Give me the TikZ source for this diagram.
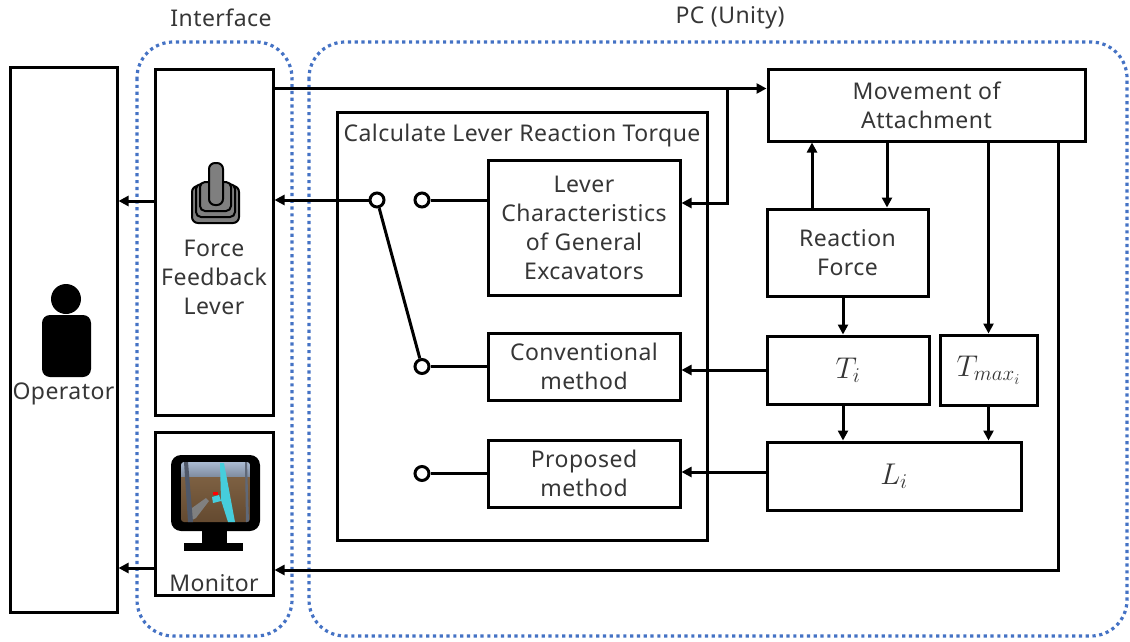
\RequirePackage{fix-cm}
\documentclass[tikz,border=0pt]{standalone}
\usepackage{fontspec}
\setmainfont[LetterSpace=2]{Noto Sans}
\usetikzlibrary{arrows.meta,calc}
\definecolor{txt}{HTML}{363636}
\definecolor{dotblue}{HTML}{4472C4}
\definecolor{leverfill}{HTML}{7F7F7F}
\definecolor{skytop}{RGB}{170,186,210}
\definecolor{skybot}{RGB}{120,132,150}
\definecolor{groundtop}{RGB}{125,96,66}
\definecolor{groundbot}{RGB}{100,74,48}
\definecolor{pillar}{RGB}{80,88,104}
\definecolor{pillarr}{RGB}{95,104,120}
\definecolor{armcyan}{RGB}{70,205,220}
\newcommand\lblfont{\fontsize{23}{29}\selectfont}
\newcommand\mathlbl{\fontsize{30}{32}\selectfont}
\begin{document}
\begin{tikzpicture}[x=1pt,y=-1pt,
  blk/.style={draw, line width=3pt, fill=white, inner sep=0pt, align=center, text=txt, font=\lblfont},
  lbl/.style={inner sep=0pt, align=center, text=txt, font=\lblfont},
  wire/.style={line width=3pt},
  arr/.style={line width=3pt, -{Triangle[length=10pt,width=10pt]}},
  contact/.style={circle, draw, line width=3pt, fill=white, minimum size=14pt, inner sep=0pt},
  group/.style={draw=dotblue, line width=3.2pt, dash pattern=on 3.2pt off 3.6pt, rounded corners=36pt},
  icon/.style={fill=leverfill, draw=black, line width=2pt}]
\useasboundingbox (0,0) rectangle (1130,642);

% dotted groups
\draw[group] (137,42) rectangle (292,636);
\draw[group] (309,42) rectangle (1127,636);
\node[lbl] (ifl) at (221,18) {Interface};
\node[lbl] (pcl) at (730,18) {PC (Unity)};

% blocks
\node[blk, minimum width=107pt, minimum height=544pt] (op) at (63.5,340) {};
\node[blk, minimum width=118pt, minimum height=345pt] (ffl) at (214,242.5) {};
\node[blk, minimum width=118pt, minimum height=163pt] (mon) at (214,513.5) {};
\node[blk, minimum width=370pt, minimum height=428pt] (calc) at (522,326) {};
\node[blk, minimum width=192pt, minimum height=135pt] (lev) at (584,227.5) {Lever\\Characteristics\\of General\\Excavators};
\node[blk, minimum width=192pt, minimum height=67pt] (conv) at (584,366.5) {Conventional\\method};
\node[blk, minimum width=192pt, minimum height=67pt] (prop) at (584,473.5) {Proposed\\method};
\node[blk, minimum width=317pt, minimum height=71pt] (mov) at (926.5,105.5) {Movement of\\Attachment};
\node[blk, minimum width=161pt, minimum height=87pt] (rf) at (847.5,252.5) {Reaction\\Force};
\node[blk, minimum width=162pt, minimum height=68pt, font=\mathlbl] (ti) at (848,370) {$T_i$};
\node[blk, minimum width=97pt, minimum height=70pt, font=\mathlbl] (tm) at (988.5,370) {$T_{max_i}$};
\node[blk, minimum width=254pt, minimum height=68pt, font=\mathlbl] (li) at (894,476) {$L_i$};

% texts inside the larger blocks
\node[lbl] (calct) at (522,136) {Calculate Lever Reaction Torque};
\node[lbl] (fflt) at (214,277) {Force\\Feedback\\Lever};
\node[lbl] (mont) at (214,583) {Monitor};
\node[lbl] (opt) at (63.5,394) {Operator};

% operator figure
\fill[black] (66,299) circle (15);
\fill[black, rounded corners=8pt] (42,315) rectangle (91,377);

% force feedback lever icon
\draw[icon, rounded corners=6pt] (192,186) rectangle (239,223);
\draw[icon, rounded corners=5pt] (196,184) rectangle (235,217);
\draw[icon, rounded corners=5pt] (200,182) rectangle (231,211);
\draw[icon, rounded corners=6pt] (209,163) rectangle (223,205);

% monitor icon
\fill[black, rounded corners=10pt] (171,455) rectangle (260,531);
\fill[black] (202,529) rectangle (227,544);
\fill[black] (184,543) rectangle (243,551);
\begin{scope}
  \clip[rounded corners=3pt] (181,462) rectangle (250,522);
  \shade[top color=skytop, bottom color=skybot] (181,462) rectangle (250,479);
  \shade[top color=groundtop, bottom color=groundbot] (181,477) rectangle (250,522);
  \fill[black!50] (192,508) -- (206,498) -- (209,501) -- (196,518) -- (188,522) -- cycle;
  \fill[pillar] (184,462) -- (188,462) -- (193,522) -- (188,522) -- cycle;
  \fill[pillarr] (245,462) -- (247,462) -- (249,522) -- (246,522) -- cycle;
  \fill[armcyan] (220,463) -- (224,463) -- (235,522) -- (228,522) -- (221,500) -- cycle;
  \fill[armcyan] (212,497) -- (219,495) -- (221,501) -- (213,503) -- cycle;
  \fill[red] (213,492) rectangle (218,495);
\end{scope}

% switch contacts
\node[contact] (sw0) at (377,200) {};
\node[contact] (sw1) at (422,200) {};
\node[contact] (sw2) at (422,366.5) {};
\node[contact] (sw3) at (422,473.5) {};
\draw[wire] (sw0) -- (sw2);
\draw[wire] (sw1) -- (lev.west |- sw1);
\draw[wire] (sw2) -- (conv.west);
\draw[wire] (sw3) -- (prop.west);
\draw[arr] (sw0) -- (ffl.east |- sw0);

% lever input to the PC side
\coordinate (br) at (727,90);
\draw[arr] ([yshift=-20pt]ffl.north east) -- ([yshift=-20pt]mov.north west);
\draw[arr] (br) |- ([yshift=24.5pt]lev.east);

% attachment and reaction loop
\draw[arr] ([xshift=-35.5pt]rf.north) -- ([xshift=-35.5pt]rf.north |- mov.south);
\draw[arr] ([xshift=39.5pt]rf.north |- mov.south) -- ([xshift=39.5pt]rf.north);
\draw[arr] (tm.north |- mov.south) -- (tm.north);
\draw[arr] ([xshift=-4.5pt]rf.south) -- ([xshift=-4.5pt]rf.south |- ti.north);
\draw[arr] ([xshift=-5pt]ti.south) -- ([xshift=-5pt]ti.south |- li.north);
\draw[arr] (tm.south) -- (tm.south |- li.north);
\draw[arr] (ti.west) -- (conv.east |- ti.west);
\draw[arr] ([yshift=4pt]li.west) -- ([yshift=4pt]li.west -| prop.east);

% view back to the monitor
\coordinate (rt) at (1058,570);
\draw[arr] (mov.south -| rt) -- (rt) -- (mon.east |- rt);

% outputs to the operator
\draw[arr] ([yshift=41.5pt]ffl.west) -- ([yshift=41.5pt]ffl.west -| op.east);
\draw[arr] ([yshift=-54.5pt]mon.west) -- ([yshift=-54.5pt]mon.west -| op.east);
\end{tikzpicture}
\end{document}
